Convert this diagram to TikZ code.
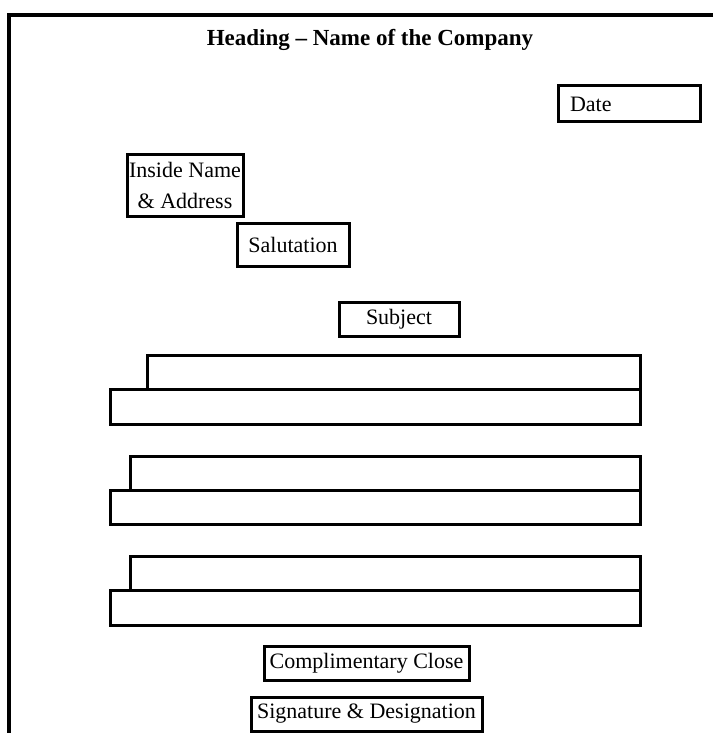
\documentclass[tikz,border=0pt]{standalone}
\usepackage{fontspec}
\setmainfont{Liberation Serif}
\begin{document}
\begin{tikzpicture}[x=1pt,y=-1pt,
  box/.style={draw=black,line width=3pt,inner sep=0pt,font=\fontsize{22}{31}\selectfont},
  bar/.style={draw=black,line width=3pt,inner sep=0pt,anchor=north west},
  frame/.style={draw=black,line width=3.5pt}]
\useasboundingbox (0,0) rectangle (713,733);
\coordinate (ftop) at (713,15);
\coordinate (fcorner) at (9,15);
\coordinate (fbot) at (9,740);
\draw[frame] (ftop) -- (fcorner) -- (fbot);
\node[font=\bfseries\fontsize{23}{27}\selectfont] (head) at (370,40) {Heading -- Name of the Company};
\node[box,minimum height=36pt,text width=118pt,align=left,inner xsep=12pt] (date) at (629,104) {Date};
\node[box,minimum width=116pt,minimum height=62pt,align=center] (inside) at (185,185) {Inside Name\\\& Address};
\node[box,minimum width=112pt,minimum height=43pt] (sal) at (293,244.5) {Salutation};
\node[box,minimum width=120pt,minimum height=34pt] (subj) at (399,319) {Subject};
% paragraph 1
\node[bar,minimum width=493pt,minimum height=34pt] (p1a) at (146,354) {};
\node[bar,minimum width=530pt,minimum height=35pt] (p1b) at (109,388) {};
% paragraph 2
\node[bar,minimum width=510pt,minimum height=34pt] (p2a) at (129,455) {};
\node[bar,minimum width=530pt,minimum height=34pt] (p2b) at (109,489) {};
% paragraph 3
\node[bar,minimum width=510pt,minimum height=34pt] (p3a) at (129,555) {};
\node[bar,minimum width=530pt,minimum height=35pt] (p3b) at (109,589) {};
\node[box,minimum width=205pt,minimum height=34pt] (close) at (366.5,663) {Complimentary Close};
\node[box,minimum width=231pt,minimum height=34pt] (sig) at (366.5,714) {Signature \& Designation};
\end{tikzpicture}
\end{document}
